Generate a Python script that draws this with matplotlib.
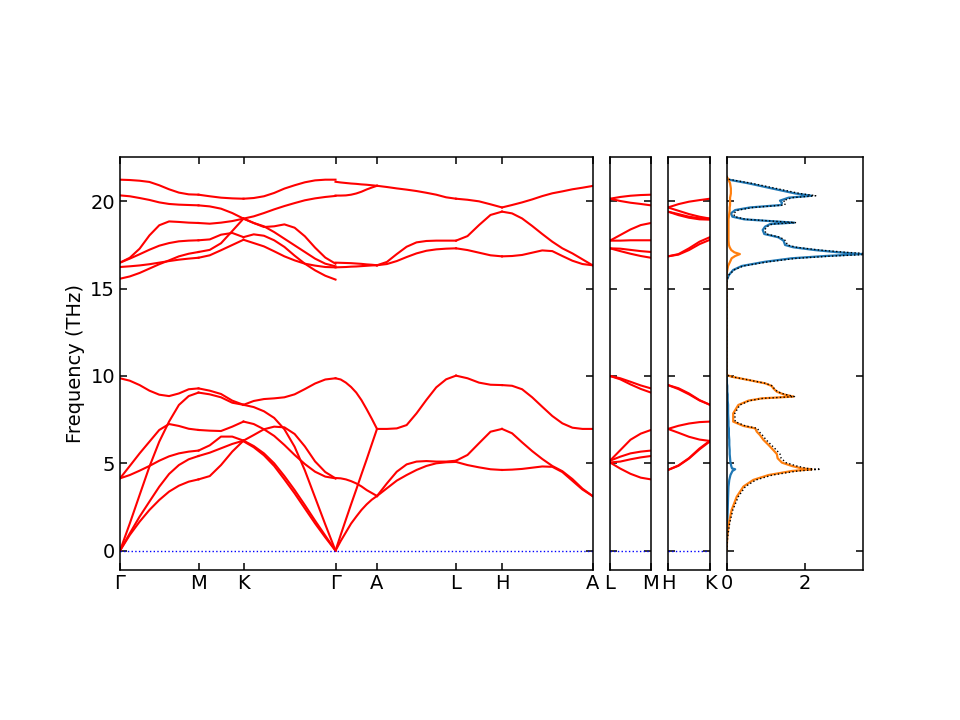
import numpy as np
import matplotlib
matplotlib.use('Agg')
import matplotlib.pyplot as plt

plt.rcParams['font.size'] = 14

# q-path: labels and segment lengths (1/Angstrom, scaled)
labels_main = ['Γ', 'M', 'K', 'Γ', 'A', 'L', 'H', 'A']
seglen_main = [0.0785, 0.0450, 0.0920, 0.0415, 0.0790, 0.0460, 0.0905]
labels_lm = ['L', 'M']
seglen_lm = [0.0410]
labels_hk = ['H', 'K']
seglen_hk = [0.0420]

# band frequencies (THz) sampled evenly along each segment
bands_G_M = [
    [0.00, 0.90, 1.66, 2.33, 2.90, 3.38, 3.72, 3.95, 4.08],
    [0.00, 0.99, 1.95, 2.81, 3.66, 4.39, 4.90, 5.23, 5.42],
    [0.00, 1.56, 3.19, 4.81, 6.24, 7.39, 8.34, 8.85, 9.05],
    [4.14, 4.33, 4.58, 4.85, 5.15, 5.40, 5.57, 5.67, 5.73],
    [4.14, 4.85, 5.57, 6.24, 6.91, 7.25, 7.14, 6.98, 6.91],
    [9.87, 9.73, 9.48, 9.16, 8.93, 8.85, 9.00, 9.24, 9.29],
    [15.57, 15.70, 15.90, 16.15, 16.40, 16.62, 16.85, 17.00, 17.10],
    [16.24, 16.28, 16.33, 16.40, 16.49, 16.58, 16.66, 16.72, 16.77],
    [16.49, 16.72, 16.97, 17.23, 17.46, 17.61, 17.71, 17.75, 17.77],
    [16.49, 16.77, 17.29, 18.05, 18.63, 18.85, 18.82, 18.78, 18.76],
    [20.34, 20.29, 20.19, 20.08, 19.94, 19.85, 19.81, 19.79, 19.77],
    [21.24, 21.22, 21.18, 21.11, 20.92, 20.69, 20.50, 20.40, 20.38],
]
bands_M_K = [
    [4.08, 4.27, 4.90, 5.67, 6.30],
    [5.42, 5.61, 5.86, 6.11, 6.30],
    [5.73, 6.03, 6.53, 6.53, 6.30],
    [6.91, 6.87, 6.85, 7.10, 7.39],
    [9.05, 8.95, 8.78, 8.47, 8.35],
    [9.29, 9.16, 8.97, 8.59, 8.35],
    [17.10, 17.22, 17.60, 18.30, 19.01],
    [16.77, 16.91, 17.20, 17.50, 17.80],
    [17.77, 17.82, 18.09, 18.19, 17.95],
    [18.76, 18.72, 18.78, 18.87, 19.01],
    [19.77, 19.71, 19.58, 19.33, 19.01],
    [20.38, 20.29, 20.21, 20.17, 20.15],
]
bands_K_G = [
    [6.26, 5.92, 5.46, 4.85, 4.08, 3.28, 2.42, 1.56, 0.76, 0.00],
    [6.30, 5.99, 5.57, 5.00, 4.27, 3.47, 2.61, 1.72, 0.86, 0.00],
    [8.35, 8.22, 7.98, 7.60, 6.95, 5.95, 4.60, 3.05, 1.50, 0.00],
    [6.30, 6.62, 6.95, 7.10, 7.06, 6.68, 5.97, 5.11, 4.50, 4.14],
    [7.39, 7.25, 6.95, 6.57, 6.05, 5.48, 4.96, 4.52, 4.24, 4.14],
    [8.35, 8.57, 8.68, 8.72, 8.78, 8.95, 9.25, 9.57, 9.80, 9.87],
    [17.95, 18.11, 18.03, 17.77, 17.39, 16.89, 16.43, 16.05, 15.74, 15.52],
    [17.80, 17.61, 17.42, 17.14, 16.85, 16.62, 16.43, 16.32, 16.24, 16.22],
    [19.01, 18.76, 18.57, 18.24, 17.86, 17.48, 17.10, 16.72, 16.43, 16.28],
    [19.01, 18.76, 18.53, 18.57, 18.68, 18.49, 18.00, 17.35, 16.78, 16.43],
    [19.01, 19.14, 19.33, 19.54, 19.73, 19.90, 20.06, 20.17, 20.25, 20.31],
    [20.15, 20.19, 20.29, 20.48, 20.73, 20.92, 21.09, 21.20, 21.24, 21.24],
]
bands_G_A = [
    [0.00, 0.55, 1.05, 1.55, 1.95, 2.33, 2.65, 2.92, 3.13],
    [0.00, 0.90, 1.78, 2.65, 3.50, 4.37, 5.22, 6.10, 6.97],
    [4.16, 4.14, 4.08, 3.98, 3.85, 3.68, 3.47, 3.30, 3.13],
    [9.87, 9.80, 9.62, 9.37, 9.05, 8.62, 8.10, 7.55, 6.97],
    [16.22, 16.23, 16.24, 16.26, 16.27, 16.29, 16.31, 16.33, 16.34],
    [16.49, 16.48, 16.47, 16.46, 16.44, 16.42, 16.39, 16.37, 16.34],
    [20.33, 20.33, 20.34, 20.38, 20.45, 20.55, 20.68, 20.79, 20.89],
    [21.12, 21.08, 21.05, 21.02, 21.00, 20.97, 20.95, 20.92, 20.89],
]
bands_A_L = [
    [3.13, 3.57, 4.01, 4.33, 4.62, 4.85, 5.00, 5.06, 5.08],
    [3.13, 3.85, 4.52, 4.94, 5.10, 5.13, 5.10, 5.10, 5.15],
    [6.97, 6.97, 7.00, 7.19, 7.86, 8.63, 9.35, 9.81, 10.02],
    [16.34, 16.41, 16.58, 16.81, 17.02, 17.17, 17.25, 17.29, 17.31],
    [16.34, 16.53, 16.98, 17.40, 17.65, 17.73, 17.75, 17.75, 17.75],
    [20.89, 20.82, 20.74, 20.67, 20.59, 20.49, 20.38, 20.23, 20.15],
]
bands_L_H = [
    [5.08, 4.90, 4.77, 4.66, 4.62],
    [5.15, 5.48, 6.15, 6.81, 6.97],
    [10.02, 9.87, 9.62, 9.50, 9.48],
    [17.31, 17.21, 17.06, 16.91, 16.85],
    [17.75, 18.01, 18.64, 19.22, 19.41],
    [20.15, 20.09, 20.00, 19.83, 19.65],
]
bands_H_A = [
    [4.62, 4.64, 4.68, 4.75, 4.82, 4.80, 4.50, 4.00, 3.50, 3.13],
    [6.97, 6.72, 6.20, 5.70, 5.25, 4.85, 4.55, 4.10, 3.55, 3.13],
    [9.48, 9.44, 9.24, 8.78, 8.24, 7.71, 7.29, 7.04, 6.97, 6.97],
    [16.85, 16.87, 16.93, 17.06, 17.19, 17.15, 16.87, 16.60, 16.41, 16.34],
    [19.41, 19.31, 19.02, 18.59, 18.13, 17.69, 17.31, 17.02, 16.68, 16.34],
    [19.65, 19.79, 19.94, 20.11, 20.30, 20.46, 20.57, 20.69, 20.78, 20.88],
]
bands_L_M = [
    [5.05, 4.70, 4.40, 4.18, 4.08],
    [5.05, 5.10, 5.23, 5.34, 5.42],
    [5.15, 5.38, 5.57, 5.67, 5.73],
    [5.15, 5.75, 6.35, 6.70, 6.91],
    [10.00, 9.81, 9.52, 9.26, 9.05],
    [10.00, 9.87, 9.67, 9.46, 9.29],
    [17.31, 17.15, 17.00, 16.87, 16.77],
    [17.31, 17.29, 17.22, 17.15, 17.10],
    [17.75, 17.75, 17.77, 17.77, 17.77],
    [17.75, 18.07, 18.39, 18.64, 18.76],
    [20.15, 20.02, 19.92, 19.85, 19.77],
    [20.15, 20.25, 20.32, 20.36, 20.38],
]
bands_H_K = [
    [4.62, 4.86, 5.27, 5.80, 6.26],
    [4.62, 4.88, 5.30, 5.85, 6.30],
    [6.97, 6.75, 6.52, 6.36, 6.28],
    [6.97, 7.15, 7.28, 7.36, 7.39],
    [9.48, 9.25, 8.95, 8.60, 8.35],
    [9.48, 9.30, 9.00, 8.62, 8.35],
    [16.85, 16.95, 17.21, 17.55, 17.80],
    [16.85, 16.98, 17.31, 17.69, 17.95],
    [19.41, 19.21, 19.06, 18.97, 18.95],
    [19.41, 19.27, 19.12, 19.03, 19.01],
    [19.65, 19.46, 19.27, 19.12, 19.01],
    [19.65, 19.84, 19.98, 20.07, 20.15],
]

# projected DOS (states/THz)
dos_freq = [0.00, 0.80, 1.57, 2.33, 3.09, 3.67, 4.05, 4.33, 4.56, 4.66,
            4.71, 4.85, 5.04, 5.29, 5.53, 5.76, 6.05, 6.34, 6.62, 6.81,
            7.00, 7.14, 7.39, 7.86, 8.34, 8.59, 8.72, 8.82, 8.95, 9.10,
            9.29, 9.43, 9.58, 9.77, 9.96, 10.06, 15.30, 15.50, 15.78, 16.07,
            16.30, 16.54, 16.74, 16.87, 16.98, 17.08, 17.21, 17.37, 17.50, 17.75,
            17.94, 18.13, 18.36, 18.55, 18.70, 18.78, 18.85, 18.97, 19.12, 19.31,
            19.50, 19.65, 19.79, 19.92, 20.04, 20.21, 20.32, 20.45, 20.74, 21.03,
            21.26, 21.41]
dos_atom1 = [0.00, 0.01, 0.02, 0.03, 0.04, 0.05, 0.07, 0.10, 0.15, 0.22,
             0.14, 0.12, 0.10, 0.09, 0.08, 0.08, 0.07, 0.07, 0.06, 0.06,
             0.06, 0.05, 0.05, 0.04, 0.04, 0.03, 0.03, 0.03, 0.03, 0.02,
             0.02, 0.02, 0.01, 0.01, 0.00, 0.00, 0.00, 0.01, 0.06, 0.17,
             0.39, 0.98, 1.66, 2.51, 3.44, 2.85, 2.25, 1.70, 1.49, 1.45,
             1.32, 0.96, 0.92, 0.98, 1.11, 1.72, 1.24, 0.45, 0.15, 0.11,
             0.22, 0.60, 1.39, 1.41, 1.36, 1.58, 2.17, 1.75, 1.15, 0.56,
             0.01, 0.00]
dos_atom2 = [0.00, 0.02, 0.06, 0.13, 0.26, 0.43, 0.68, 1.07, 1.66, 2.17,
             1.91, 1.66, 1.41, 1.30, 1.28, 1.19, 1.07, 0.94, 0.85, 0.77,
             0.73, 0.43, 0.17, 0.17, 0.30, 0.56, 0.90, 1.70, 1.45, 1.28,
             1.19, 1.15, 0.98, 0.56, 0.13, 0.00, 0.00, 0.00, 0.00, 0.02,
             0.04, 0.09, 0.13, 0.22, 0.34, 0.20, 0.12, 0.08, 0.06, 0.05,
             0.05, 0.05, 0.05, 0.05, 0.05, 0.05, 0.05, 0.05, 0.06, 0.07,
             0.08, 0.08, 0.09, 0.09, 0.09, 0.09, 0.10, 0.11, 0.11, 0.09,
             0.05, 0.00]

ylim = (-1.08, 22.52)
yticks = [0, 5, 10, 15, 20]


def plot_bands(ax, lengths, segments, labels):
    x = 0.0
    ticks = [0.0]
    for length, seg in zip(lengths, segments):
        for band in seg:
            q = np.linspace(x, x + length, len(band))
            ax.plot(q, band, color='r', lw=1.5)
        x += length
        ticks.append(x)
    ax.axhline(0, color='b', ls=':', lw=1.0)
    ax.set_xlim(0, x)
    ax.set_ylim(*ylim)
    ax.set_xticks(ticks)
    ax.set_xticklabels(labels)
    ax.set_yticks(yticks)


def style(ax):
    ax.tick_params(direction='in', top=True, right=True, length=5, width=1.1)
    for sp in ax.spines.values():
        sp.set_linewidth(1.1)


fig = plt.figure(figsize=(9.6, 7.2), dpi=100)
bottom, height = 0.209, 0.5725
ax1 = fig.add_axes([0.125, bottom, 0.4922, height])
ax2 = fig.add_axes([0.6354, bottom, 0.0427, height])
ax3 = fig.add_axes([0.6958, bottom, 0.0438, height])
ax4 = fig.add_axes([0.7568, bottom, 0.1425, height])

plot_bands(ax1, seglen_main,
           [bands_G_M, bands_M_K, bands_K_G, bands_G_A,
            bands_A_L, bands_L_H, bands_H_A], labels_main)
ax1.set_ylabel('Frequency (THz)')
plot_bands(ax2, seglen_lm, [bands_L_M], labels_lm)
ax2.set_yticklabels([])
plot_bands(ax3, seglen_hk, [bands_H_K], labels_hk)
ax3.set_yticklabels([])

total = np.array(dos_atom1) + np.array(dos_atom2)
ax4.plot(dos_atom1, dos_freq, color='tab:blue', lw=1.6)
ax4.plot(dos_atom2, dos_freq, color='tab:orange', lw=1.6)
ax4.plot(total, dos_freq, color='k', ls=':', lw=1.0)
ax4.set_xlim(0, 3.48)
ax4.set_ylim(*ylim)
ax4.set_xticks([0, 2])
ax4.set_yticks(yticks)
ax4.set_yticklabels([])

for ax in (ax1, ax2, ax3, ax4):
    style(ax)

fig.savefig('out.png', dpi=100)
